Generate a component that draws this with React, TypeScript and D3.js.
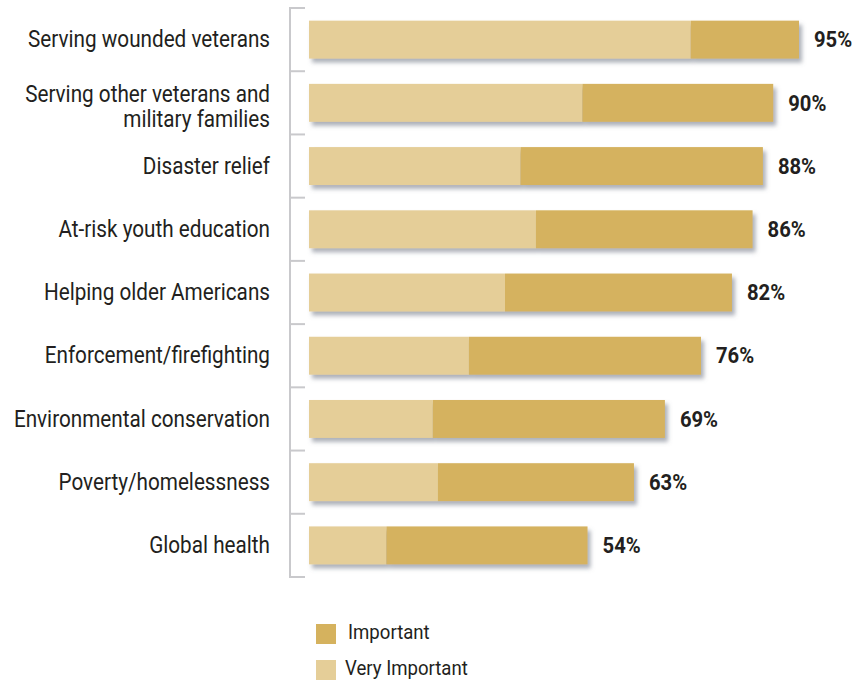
import React from "react";
import * as d3 from "d3";

const categories: string[][] = [
  ["Serving wounded veterans"],
  ["Serving other veterans and", "military families"],
  ["Disaster relief"],
  ["At-risk youth education"],
  ["Helping older Americans"],
  ["Enforcement/firefighting"],
  ["Environmental conservation"],
  ["Poverty/homelessness"],
  ["Global health"],
];
const veryImportant = [74, 53, 41, 44, 38, 31, 24, 25, 15];
const important = [21, 37, 47, 42, 44, 45, 45, 38, 39];
const seriesNames = ["Important", "Very Important"];

const W = 864;
const H = 681;
const LIGHT = "#E5CE98";
const DARK = "#D5B25E";
const TEXT = "#231F20";
const FONT = "Roboto, sans-serif";

export default function App() {
  const x = d3.scaleLinear().domain([0, 95]).range([309, 799]);
  const y = d3
    .scaleBand<number>()
    .domain(categories.map((_, i) => i))
    .range([8, 577])
    .paddingInner(0.4)
    .paddingOuter(0.2);
  const boundaries = d3.range(categories.length + 1).map((i) => 8 + i * ((577 - 8) / categories.length));

  return (
    <div style={{ position: "absolute", left: 0, top: 0 }}>
      <svg width={W} height={H} style={{ display: "block", background: "#fff" }}>
        <defs>
          <filter id="sh" x="-5%" y="-30%" width="115%" height="180%">
            <feDropShadow dx="3" dy="4" stdDeviation="2.2" floodColor="#6b6f80" floodOpacity="0.55" />
          </filter>
        </defs>
        <line x1={290} x2={290} y1={boundaries[0]} y2={boundaries[boundaries.length - 1]} stroke="#c9c9cc" strokeWidth={2} />
        {boundaries.map((b, i) => (
          <line key={i} x1={289} x2={305} y1={b} y2={b} stroke="#c9c9cc" strokeWidth={2} />
        ))}
        {categories.map((lines, i) => {
          const y0 = y(i)!;
          const bh = y.bandwidth();
          const cy = y0 + bh / 2;
          const total = veryImportant[i] + important[i];
          return (
            <g key={i}>
              <g filter="url(#sh)">
                <rect x={x(0)} y={y0} width={x(veryImportant[i]) - x(0)} height={bh} fill={LIGHT} />
                <rect x={x(veryImportant[i])} y={y0} width={x(total) - x(veryImportant[i])} height={bh} fill={DARK} />
              </g>
              <g transform={`translate(${x(total) + 15},${cy}) scale(0.92,1)`}>
                <text dy="0.35em" fontFamily={FONT} fontWeight="bold" fontSize={22} fill={TEXT}>
                  {total}%
                </text>
              </g>
              {lines.map((ln, j) => {
                const ly = lines.length > 1 ? cy - 8.5 + j * 25 : cy;
                return (
                  <g key={j} transform={`translate(270,${ly}) scale(0.9,1)`}>
                    <text dy="0.33em" textAnchor="end" fontFamily={FONT} fontSize={23} fill={TEXT}>
                      {ln}
                    </text>
                  </g>
                );
              })}
            </g>
          );
        })}
        {seriesNames.map((s, i) => (
          <g key={s} transform={`translate(316, ${624 + i * 36})`}>
            <rect x={0} y={0} width={20} height={20} fill={i === 0 ? DARK : LIGHT} />
            <g transform={`translate(${i === 0 ? 32 : 29},15) scale(0.93,1)`}>
              <text fontFamily={FONT} fontSize={20} fill={TEXT}>
                {s}
              </text>
            </g>
          </g>
        ))}
      </svg>
    </div>
  );
}
